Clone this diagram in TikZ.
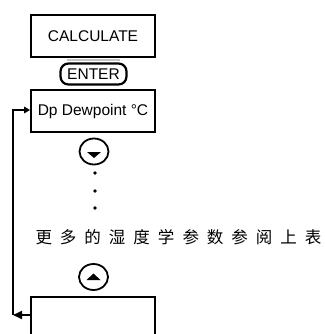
\documentclass[tikz,border=0pt]{standalone}
\usepackage{fontspec}
\setmainfont{Liberation Sans}
\newfontfamily\cjk{Noto Sans CJK SC}
\usetikzlibrary{arrows.meta,shapes.geometric}
\begin{document}
\begin{tikzpicture}[x=1pt,y=-1pt,
  panel/.style={draw, line width=1.8pt, minimum width=124pt, minimum height=42pt, inner sep=0pt, font=\fontsize{15.5}{17}\selectfont},
  keybtn/.style={draw, line width=2.2pt, rounded corners=8pt, minimum width=66pt, minimum height=21pt, inner sep=0pt, font=\fontsize{15.5}{17}\selectfont},
  navbtn/.style={draw, ellipse, line width=1.8pt, minimum width=29pt, minimum height=26pt, inner sep=0pt},
  dotmark/.style={fill, circle, inner sep=0pt, minimum size=3.8pt},
  notetext/.style={inner sep=0pt, font=\cjk\fontsize{16.5}{18}\selectfont},
  conn/.style={line width=1.8pt}]
\useasboundingbox (0,0) rectangle (324,334);
\clip (0,0) rectangle (324,334);
\fill[white] (0,0) rectangle (324,334);
% boxes
\node[panel] (calc) at (93,36) {CALCULATE};
\draw[gray!45, line width=2pt] ([xshift=-26pt,yshift=-2.5pt]calc.south) -- ([xshift=27pt,yshift=-2.5pt]calc.south);
\node[keybtn] (enter) at (93.5,74) {ENTER};
\node[panel] (dp) at (93,111) {Dp Dewpoint °C};
% down button
\node[navbtn] (down) at (94,151.5) {};
\fill ([shift={(-7,0.5)}]down.center) -- ++(14,0) -- ++(-7,6) -- cycle;
% dots
\node[dotmark] (d1) at (95,173) {};
\node[dotmark] (d2) at (95,191) {};
\node[dotmark] (d3) at (95,208) {};
% note
\node[notetext] (note) at (178.5,237.5) {更\hspace{8pt}多\hspace{8pt}的\hspace{8pt}湿\hspace{8pt}度\hspace{8pt}学\hspace{8pt}参\hspace{8pt}数\hspace{8pt}参\hspace{8pt}阅\hspace{8pt}上\hspace{8pt}表};
% up button
\node[navbtn] (up) at (93.5,277) {};
\fill ([shift={(-7,3)}]up.center) -- ++(14,0) -- ++(-7,-6.5) -- cycle;
% last box
\node[panel, minimum height=60pt, anchor=north] (last) at (93,296) {};
% loop connector
\coordinate (cb) at (13,315);
\coordinate (ct) at (13,110);
\draw[conn, -{Triangle[length=9pt,width=8pt]}] (last.west |- cb) -- (cb);
\draw[conn, -{Triangle[length=6pt,width=6.5pt]}] (cb) -- (ct) -- (ct -| dp.west);
\end{tikzpicture}
\end{document}
